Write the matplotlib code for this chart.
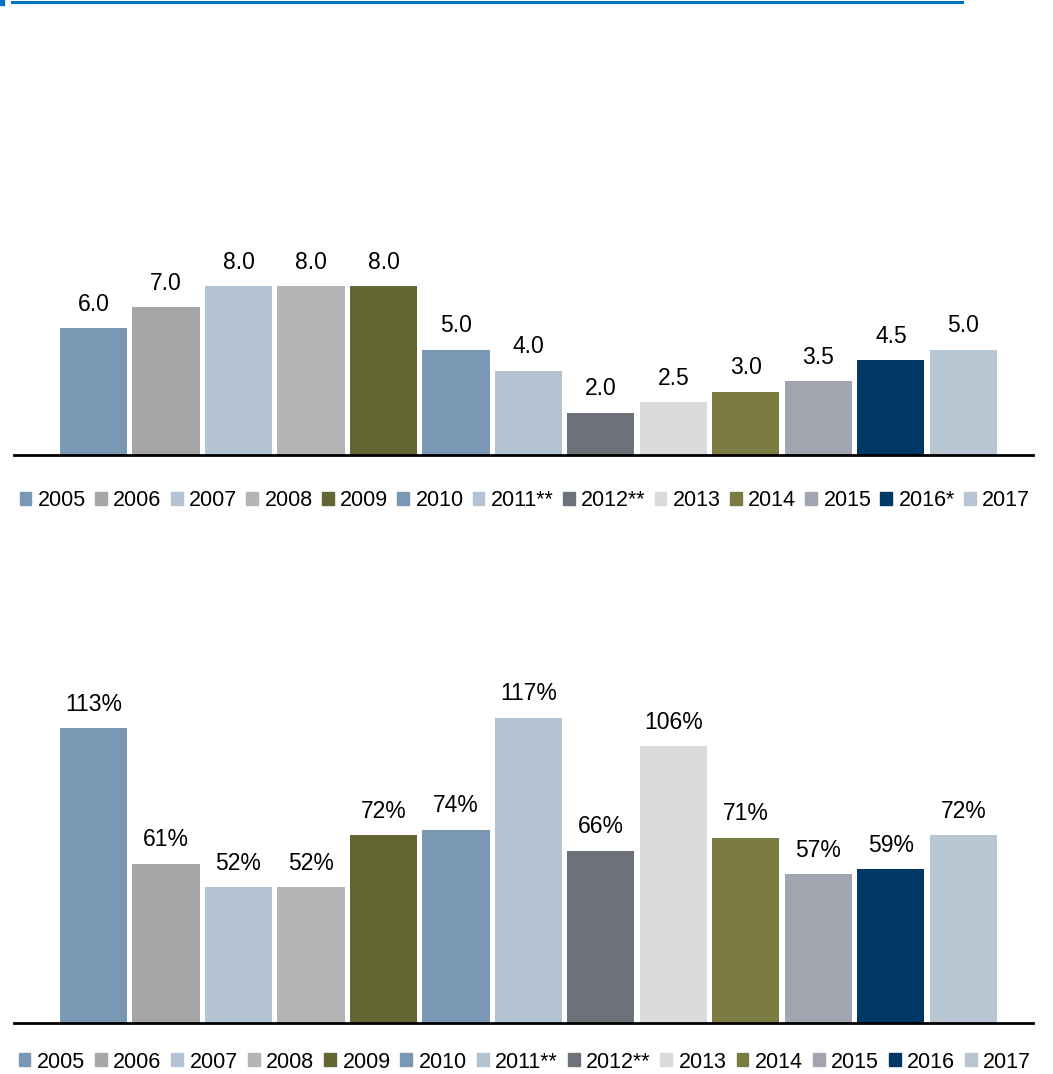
import matplotlib.pyplot as plt
from matplotlib.lines import Line2D
from matplotlib.patches import Rectangle, Patch

plt.rcParams['font.family'] = ['Liberation Sans', 'DejaVu Sans']

years_top = ['2005', '2006', '2007', '2008', '2009', '2010', '2011**', '2012**',
             '2013', '2014', '2015', '2016*', '2017']
years_bottom = ['2005', '2006', '2007', '2008', '2009', '2010', '2011**', '2012**',
                '2013', '2014', '2015', '2016', '2017']
values_top = [6.0, 7.0, 8.0, 8.0, 8.0, 5.0, 4.0, 2.0, 2.5, 3.0, 3.5, 4.5, 5.0]
values_bottom = [113, 61, 52, 52, 72, 74, 117, 66, 106, 71, 57, 59, 72]
colors = ['#7898b4', '#a6a6a6', '#b3c3d2', '#b4b5b7', '#636633', '#7898b4', '#b3c3d2',
          '#6c717a', '#dadbdd', '#7b7c42', '#a2a5b0', '#003865', '#b8c5d3']

W, H = 1053, 1074
fig = plt.figure(figsize=(W / 100, H / 100), dpi=100)

# header rule
fig.add_artist(Line2D([12 / W, 962 / W], [1 - 1.5 / H, 1 - 1.5 / H],
                      color='#0070c0', lw=2.2, transform=fig.transFigure))
fig.add_artist(Rectangle((0, 1 - 5 / H), 4 / W, 5 / H, color='#0070c0',
                         transform=fig.transFigure))


def draw_panel(rect, values, labels, fmt, ymax, legend_y, colspace):
    ax = fig.add_axes(rect)
    x = range(len(values))
    bars = ax.bar(x, values, width=0.925, color=colors)
    for b, v in zip(bars, values):
        ax.annotate(fmt.format(v), (b.get_x() + b.get_width() / 2, v),
                    xytext=(0, 9), textcoords='offset points',
                    ha='center', va='bottom', fontsize=16.5)
    ax.set_xlim(-1.097, 12.96)
    ax.set_ylim(0, ymax)
    for s in ['top', 'left', 'right']:
        ax.spines[s].set_visible(False)
    ax.spines['bottom'].set_linewidth(2)
    ax.set_xticks([])
    ax.set_yticks([])
    handles = [Patch(color=c, label=l) for c, l in zip(colors, labels)]
    fig.legend(handles=handles, loc='center', bbox_to_anchor=(0.4985, legend_y),
               ncol=13, frameon=False, fontsize=15.5, handlelength=0.55,
               handleheight=0.55, handletextpad=0.3, columnspacing=colspace,
               borderpad=0)
    return ax


draw_panel([14 / W, 1 - 455 / H, 1019 / W, 425 / H], values_top, years_top,
           '{:.1f}', 425 / 21.1, 1 - 501 / H, 0.42)
draw_panel([14 / W, 1 - 1023 / H, 1019 / W, 463 / H], values_bottom, years_bottom,
           '{}%', 463 / 2.61, 1 - 1062 / H, 0.46)

fig.savefig('out.png', dpi=100)
